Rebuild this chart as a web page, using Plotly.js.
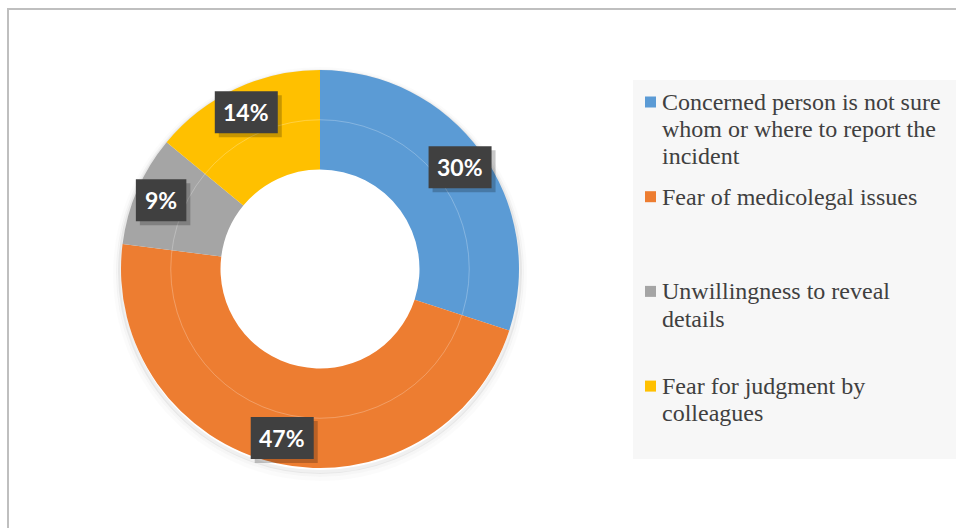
<!DOCTYPE html>
<html><head><meta charset="utf-8">
<script src="https://cdn.plot.ly/plotly-3.0.1.min.js"></script>
<style>html,body{margin:0;padding:0;background:#fff}</style>
</head><body>
<div id="chart" style="width:956px;height:528px"></div>
<script>
// ---- data ----
const categories = [
  "Concerned person is not sure whom or where to report the incident",
  "Fear of medicolegal issues",
  "Unwillingness to reveal details",
  "Fear for judgment by colleagues"
];
const legendLines = [
  ["Concerned person is not sure", "whom or where to report the", "incident"],
  ["Fear of medicolegal issues"],
  ["Unwillingness to reveal", "details"],
  ["Fear for judgment by", "colleagues"]
];
const values = [30, 47, 9, 14];
const percentLabels = ["30%", "47%", "9%", "14%"];
const sliceColors = ["#5B9BD5", "#ED7D31", "#A5A5A5", "#FFC000"];

// ---- layout geometry ----
const W = 956, H = 528;
const pieLeft = 120, pieRight = 520, pieTop = 70, pieBottom = 468;
const cx = (pieLeft + pieRight) / 2, cy = (pieTop + pieBottom) / 2;
const R = Math.min(pieRight - pieLeft, pieBottom - pieTop) / 2;
const px = v => v / W, py = v => 1 - v / H;

const trace = {
  type: "pie",
  labels: categories,
  values: values,
  sort: false,
  direction: "clockwise",
  rotation: 0,
  hole: 0.5,
  textinfo: "none",
  hoverinfo: "label+percent",
  marker: { colors: sliceColors, line: { width: 0 } },
  domain: { x: [px(pieLeft), px(pieRight)], y: [py(pieBottom), py(pieTop)] },
  showlegend: false
};

const annotations = [];
const shapes = [];

// outer chart border
shapes.push({ type: "rect", xref: "paper", yref: "paper", x0: px(8), x1: 1.05, y0: -0.05, y1: py(9),
  line: { color: "#bfbfbf", width: 2 }, fillcolor: "rgba(0,0,0,0)", layer: "below" });

// soft shadow under donut
[[R + 1, 0.06, 3], [R + 3, 0.035, 4], [R + 6, 0.015, 5]].forEach(([r, a, dy]) => {
  shapes.push({ type: "circle", xref: "paper", yref: "paper",
    x0: px(cx - r), x1: px(cx + r), y0: py(cy + r + dy), y1: py(cy - r + dy),
    line: { color: "rgba(0,0,0," + a + ")", width: 4 }, layer: "below" });
});
// faint bevel ring in the middle of the donut
const rm = R * 0.75;
shapes.push({ type: "circle", xref: "paper", yref: "paper",
  x0: px(cx - rm), x1: px(cx + rm), y0: py(cy + rm), y1: py(cy - rm),
  line: { color: "rgba(255,255,255,0.25)", width: 1 } });

// percentage labels (dark boxes with drop shadow)
const total = values.reduce((a, b) => a + b, 0);
let cum = 0;
values.forEach((v, i) => {
  const th = (cum + v / 2) / total * 2 * Math.PI;
  cum += v;
  const lx = cx + 0.87 * R * Math.sin(th), ly = cy - 0.87 * R * Math.cos(th);
  const txt = percentLabels[i];
  const digits = txt.replace("%", "").length;
  const bw = 18 + digits * 12.5 + 20, bh = 42;
  shapes.push({ type: "rect", xref: "paper", yref: "paper",
    x0: px(lx - bw / 2 + 4), x1: px(lx + bw / 2 + 4), y0: py(ly + bh / 2 + 4), y1: py(ly - bh / 2 + 4),
    fillcolor: "rgba(0,0,0,0.22)", line: { width: 0 } });
  shapes.push({ type: "rect", xref: "paper", yref: "paper",
    x0: px(lx - bw / 2), x1: px(lx + bw / 2), y0: py(ly + bh / 2), y1: py(ly - bh / 2),
    fillcolor: "#404040", line: { width: 0 } });
  annotations.push({ xref: "paper", yref: "paper", x: px(lx), y: py(ly), xanchor: "center", yanchor: "middle",
    text: "<b>" + txt + "</b>", showarrow: false,
    font: { family: "Lato, Carlito, sans-serif", size: 23, color: "#ffffff" } });
});

// legend panel
const legLeft = 633, legTop = 80, legBottom = 459;
shapes.push({ type: "rect", xref: "paper", yref: "paper", x0: px(legLeft), x1: 1.02, y0: py(legBottom), y1: py(legTop),
  fillcolor: "#f7f7f7", line: { width: 0 }, layer: "below" });
const firstRow = 102, rowStep = 94.7, lineStep = 27.2;
legendLines.forEach((lines, i) => {
  const yc = firstRow + i * rowStep;
  shapes.push({ type: "rect", xref: "paper", yref: "paper", x0: px(645), x1: px(656), y0: py(yc + 5.5), y1: py(yc - 5.5),
    fillcolor: sliceColors[i], line: { width: 0 } });
  lines.forEach((t, j) => {
    annotations.push({ xref: "paper", yref: "paper", x: px(661), y: py(yc + j * lineStep), xanchor: "left", yanchor: "middle",
      align: "left", text: t, showarrow: false, borderpad: 0,
      font: { family: "Liberation Serif, Times New Roman, serif", size: 24, color: "#404040" } });
  });
});

const layout = {
  width: W, height: H,
  margin: { l: 0, r: 0, t: 0, b: 0 },
  paper_bgcolor: "#ffffff",
  showlegend: false,
  shapes: shapes,
  annotations: annotations
};

Plotly.newPlot("chart", [trace], layout, { displayModeBar: false, staticPlot: true });
</script>
</body></html>
